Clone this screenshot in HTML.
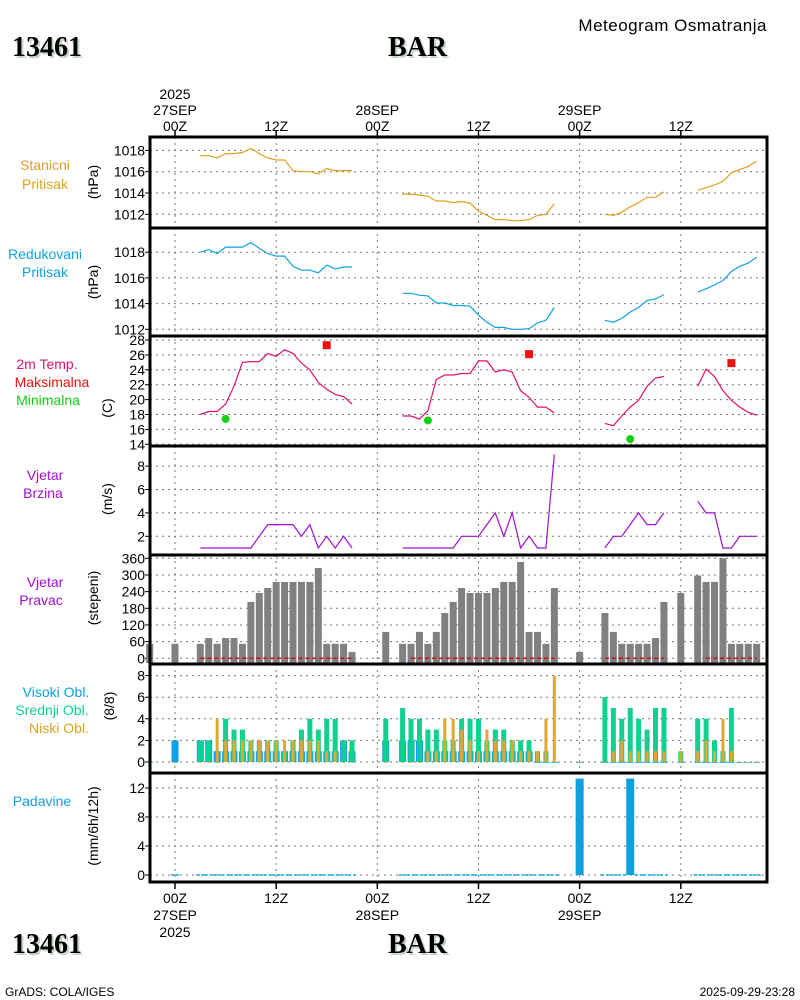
<!DOCTYPE html>
<html><head><meta charset="utf-8"><style>
html,body{margin:0;padding:0;background:#fff;}
svg{display:block;font-family:"Liberation Sans",sans-serif;}
.t{font-size:14px;fill:#000;}
</style></head><body>
<svg id="chart" width="800" height="1000" viewBox="0 0 800 1000" xmlns="http://www.w3.org/2000/svg">
<rect width="800" height="1000" fill="#fff"/>
<text x="767" y="31" text-anchor="end" font-size="17" letter-spacing="0.5">Meteogram Osmatranja</text>
<g font-family="Liberation Serif,serif" font-weight="bold" font-size="28">
<text x="14" y="58" fill="#c4d4c4">13461</text><text x="12" y="56" fill="#000">13461</text>
<text x="390" y="58" fill="#c4d4c4">BAR</text><text x="388" y="56" fill="#000">BAR</text>
</g>
<g font-family="Liberation Serif,serif" font-weight="bold" font-size="28">
<text x="14" y="955" fill="#c4d4c4">13461</text><text x="12" y="953" fill="#000">13461</text>
<text x="390" y="955" fill="#c4d4c4">BAR</text><text x="388" y="953" fill="#000">BAR</text>
</g>
<text x="5" y="996" font-size="12">GrADS: COLA/IGES</text>
<text x="795" y="996" font-size="12" text-anchor="end">2025-09-29-23:28</text>
<g font-size="14" text-anchor="middle">
<text x="45" y="170" fill="#e0a020">Stanicni</text>
<text x="45" y="189" fill="#e0a020">Pritisak</text>
<text x="45" y="259" fill="#10a0e0">Redukovani</text>
<text x="45" y="277" fill="#10a0e0">Pritisak</text>
<text x="47" y="369" fill="#e0106a">2m Temp.</text>
<text x="52" y="387" fill="#f01010">Maksimalna</text>
<text x="48" y="405" fill="#10d010">Minimalna</text>
<text x="45" y="480" fill="#a010d0">Vjetar</text>
<text x="43" y="498" fill="#a010d0">Brzina</text>
<text x="45" y="587" fill="#a010d0">Vjetar</text>
<text x="41" y="605" fill="#a010d0">Pravac</text>
<text x="56" y="697" fill="#10a0e0">Visoki Obl.</text>
<text x="52" y="715" fill="#10d090">Srednji Obl.</text>
<text x="59" y="733" fill="#e0a020">Niski Obl.</text>
<text x="42" y="806" fill="#10a0e0">Padavine</text>
</g>
<g id="plot"></g>
</svg>
<script>
const hours = [];
for (let h = -3; h <= 69; h++) hours.push(h);
const n = null;
const stationPressure = [n,n,n, n,n,n,
 1017.5,1017.5,1017.3,1017.7,1017.7,1017.8,1018.2,1017.7,1017.3,1017.1,1017.1,1016.1,1016.0,1016.0,1015.8,1016.3,1016.1,1016.1,1016.1,
 n,n,n,n,n,
 1013.9,1013.9,1013.8,1013.7,1013.25,1013.25,1013.1,1013.2,1013.05,1012.3,1011.9,1011.5,1011.5,1011.4,1011.4,1011.5,1011.9,1012.0,1013.0,
 n,n,n,n,n,
 1012.0,1011.9,1012.2,1012.7,1013.1,1013.6,1013.6,1014.1,
 n,n,n,
 1014.25,1014.5,1014.75,1015.1,1015.9,1016.2,1016.5,1017.0];
const reducedPressure = [n,n,n, n,n,n,
 1018.0,1018.2,1017.9,1018.4,1018.4,1018.4,1018.75,1018.3,1017.9,1017.7,1017.7,1016.9,1016.6,1016.6,1016.4,1017.0,1016.7,1016.85,1016.85,
 n,n,n,n,n,
 1014.8,1014.8,1014.65,1014.6,1014.05,1014.05,1013.85,1013.85,1013.8,1013.1,1012.55,1012.15,1012.15,1012.0,1012.0,1012.05,1012.5,1012.7,1013.7,
 n,n,n,n,n,
 1012.7,1012.55,1012.85,1013.35,1013.7,1014.25,1014.35,1014.7,
 n,n,n,
 1014.9,1015.15,1015.45,1015.8,1016.5,1016.9,1017.15,1017.6];
const temperature = [n,n,n, n,n,n,
 18.0,18.4,18.4,19.4,21.8,25.0,25.1,25.1,26.2,25.8,26.7,26.2,24.9,24.0,22.3,21.4,20.7,20.4,19.4,
 n,n,n,n,n,
 17.8,17.8,17.4,18.5,22.7,23.3,23.3,23.5,23.5,25.2,25.2,23.7,24.0,23.7,21.2,20.3,19.0,19.0,18.2,
 n,n,n,n,n,
 16.8,16.5,17.8,19.0,19.9,21.8,22.9,23.1,
 n,n,n,
 21.8,24.1,23.1,21.2,19.9,19.0,18.3,17.9];
const tmaxHours = [18, 42, 66];
const tmaxValues = [27.3, 26.1, 24.9];
const tminHours = [6, 30, 54];
const tminValues = [17.4, 17.2, 14.7];
const windSpeed = [n,n,n, n,n,n,
 1,1,1,1,1,1,1,2,3,3,3,3,2,3,1,2,1,2,1,
 n,n,n,n,n,
 1,1,1,1,1,1,1,2,2,2,3,4,2,4,1,2,1,1,9,
 n,n,n,n,n,
 1,2,2,3,4,3,3,4,
 n,n,n,
 5,4,4,1,1,2,2,2];
const windDir = [52,n,n, 52,n,n,
 52,73,52,73,73,52,203,235,253,275,275,275,275,275,325,52,52,52,23,
 n,n,n,95,n,
 52,52,95,52,95,163,203,253,235,235,235,253,275,275,347,95,95,52,253,
 n,n,23,n,n,
 163,95,52,52,52,52,73,203,
 n,235,n,
 298,275,275,360,52,52,52,52];
const highCloud = [0,n,n, 2,n,n,
 2,2,1,1,1,1,1,1,1,1,1,1,1,1,1,1,1,2,1,
 n,n,n,2,n,
 2,2,2,1,1,1,1,1,1,1,1,1,1,1,1,1,0,0,0,
 n,n,0,n,n,
 0,0,0,0,0,0,0,0,
 n,0,n,
 0,0,0,0,0,0,0,0];
const midCloud = [0,n,n, 0,n,n,
 2,2,0,4,3,3,2,2,2,2,1,2,3,4,3,4,4,2,2,
 n,n,n,4,n,
 5,4,4,3,3,2,2,4,4,4,2,3,3,2,2,2,1,1,0,
 n,n,0,n,n,
 6,5,4,5,4,3,5,5,
 n,1,n,
 4,4,2,1,5,0,0,0];
const lowCloud = [0,n,n, 0,n,n,
 0,0,4,2,2,2,2,2,2,2,2,2,2,2,2,1,1,0,0,
 n,n,n,0,n,
 0,0,0,1,1,4,4,3,2,1,3,2,2,2,1,1,1,4,8,
 n,n,0,n,n,
 0,1,2,1,1,1,1,1,
 n,1,n,
 1,2,1,4,1,0,0,0];
const precipHours = [0,3,4,5,6,7,8,9,10,11,12,13,14,15,16,17,18,19,20,21,27,28,29,30,31,32,33,34,35,36,37,38,39,40,41,42,43,44,45,48,51,52,53,54,55,56,57,58,62,63,64,65,66,67,68,69];
const precipValues = [0,0,0,0,0,0,0,0,0,0,0,0,0,0,0,0,0,0,0,0,0,0,0,0,0,0,0,0,0,0,0,0,0,0,0,0,0,0,0,13.3,0,0,0,13.3,0,0,0,0,0,0,0,0,0,0,0,0];
const timeTicks = [0, 12, 24, 36, 48, 60];
const pTicks = [1012, 1014, 1016, 1018];
const tTicks = [14, 16, 18, 20, 22, 24, 26, 28];
const wsTicks = [2, 4, 6, 8];
const wdTicks = [0, 60, 120, 180, 240, 300, 360];
const cTicks = [0, 2, 4, 6, 8];
const prTicks = [0, 4, 8, 12];

const NS = "http://www.w3.org/2000/svg";
const plot = document.getElementById('plot');
function mk(tag, attrs, parent) {
  const e = document.createElementNS(NS, tag);
  for (const k in attrs) e.setAttribute(k, attrs[k]);
  (parent || plot).appendChild(e);
  return e;
}
const X0 = 150, X1 = 767;
const xs = h => 175 + 8.43 * h;
const yP1 = p => 214.3 - (p - 1012) * 10.65;
const yP2 = p => 329.3 - (p - 1012) * 12.85;
const yT = t => 444.3 - (t - 14) * 7.45;
const yWS = v => 548 - (v - 1) * 11.7;
const yWD = v => 658.3 - v * 100 / 360;
const yC = v => 762 - v * 10.8;
const yPr = v => 875 - v * 7.25;
const panels = [[137,228],[228,336],[336,446],[446,555],[555,664],[664,773],[773,882]];

panels.forEach((pn, i) => {
  timeTicks.forEach(h => {
    const g = mk('line', {x1: xs(h), x2: xs(h), y1: pn[0], y2: pn[1], stroke: '#777', 'stroke-dasharray': '2,4'});
    
    
  });
});
function yTicks(ticks, fy, fmt) {
  ticks.forEach(v => {
    const y = fy(v);
    const g = mk('line', {x1: X0, x2: X1, y1: y, y2: y, stroke: '#777', 'stroke-dasharray': '2,4'});
    
    
    const tk = mk('line', {x1: X0 - 5, x2: X0, y1: y, y2: y, stroke: '#000'});
    
    
    const t = mk('text', {x: X0 - 5, y: y + 5, 'text-anchor': 'end', class: 't'});
    t.textContent = fmt ? fmt(v) : v;
    
    
  });
}
yTicks(pTicks, yP1);
yTicks(pTicks, yP2);
yTicks(tTicks, yT);
yTicks(wsTicks, yWS);
yTicks(wdTicks, yWD);
yTicks(cTicks, yC);
yTicks(prTicks, yPr);

function line(arr, fy, color, name) {
  let d = '', pen = false;
  arr.forEach((v, i) => {
    if (v === null) { pen = false; return; }
    d += (pen ? 'L' : 'M') + xs(hours[i]).toFixed(1) + ',' + fy(v).toFixed(1);
    pen = true;
  });
  const p = mk('path', {d: d, fill: 'none', stroke: color, 'stroke-width': 1.2});
  
  
}
line(stationPressure, yP1, '#e0a020', 'station-pressure-line');
line(reducedPressure, yP2, '#10a0e0', 'reduced-pressure-line');
line(temperature, yT, '#e0106a', 'temperature-line');
line(windSpeed, yWS, '#a010d0', 'wind-speed-line');

tmaxHours.forEach((h, i) => {
  const r = mk('rect', {x: xs(h) - 4, y: yT(tmaxValues[i]) - 4, width: 8, height: 8, fill: '#f01010'});
  
  
});
tminHours.forEach((h, i) => {
  const c = mk('circle', {cx: xs(h), cy: yT(tminValues[i]), r: 4, fill: '#10d010'});
  
  
});

windDir.forEach((v, i) => {
  if (v === null) return;
  const x = xs(hours[i]);
  const b = mk('rect', {x: x - 3.5, y: yWD(v), width: 7, height: 663 - yWD(v), fill: '#808080'});
  
  
});
[[3,21],[28,45],[51,58],[63,69]].forEach(s => {
  const l = mk('line', {x1: xs(s[0]), x2: xs(s[1]), y1: yWD(0), y2: yWD(0), stroke: '#d01010', 'stroke-width': 1.5, 'stroke-dasharray': '4,3'});
  
  
});

function cbar(arr, w, color, name) {
  arr.forEach((v, i) => {
    if (v === null) return;
    const x = xs(hours[i]);
    const r = mk('rect', {x: x - w / 2, y: yC(v), width: w, height: Math.max(yC(0) - yC(v), 0.8), fill: color});
    
    
  });
}
cbar(highCloud, 7, '#10a0e8', 'high-cloud-bar');
cbar(midCloud, 5, '#10d090', 'mid-cloud-bar');
cbar(lowCloud, 3, '#e0a830', 'low-cloud-bar');

precipHours.forEach((h, i) => {
  const v = precipValues[i];
  if (v > 0) {
    const r = mk('rect', {x: xs(h) - 4, y: yPr(v), width: 8, height: yPr(0) - yPr(v), fill: '#10a0e0'});
    
    
  } else {
    const r = mk('line', {x1: xs(h) - 4, x2: xs(h) + 4, y1: yPr(0), y2: yPr(0), stroke: '#10a0e0', 'stroke-width': 1.5, 'stroke-dasharray': '3,2'});
    
    
  }
});

panels.forEach(pn => {
  const r = mk('rect', {x: X0, y: pn[0], width: X1 - X0, height: pn[1] - pn[0], fill: 'none', stroke: '#000', 'stroke-width': 3});
  
  
});
timeTicks.forEach(h => {
  const a = mk('line', {x1: xs(h), x2: xs(h), y1: 130, y2: 137, stroke: '#000', 'stroke-width': 1.5});
  
  
  const b = mk('line', {x1: xs(h), x2: xs(h), y1: 882, y2: 889, stroke: '#000', 'stroke-width': 1.5});
  
  
});

const topLabels = [[0,['2025','27SEP','00Z']],[12,['12Z']],[24,['28SEP','00Z']],[36,['12Z']],[48,['29SEP','00Z']],[60,['12Z']]];
topLabels.forEach(tl => {
  const ls = tl[1];
  ls.forEach((s, j) => {
    const t = mk('text', {x: xs(tl[0]), y: 131 - (ls.length - 1 - j) * 16, 'text-anchor': 'middle', class: 't', 'font-size': '15'});
    t.textContent = s;
    
    
  });
});
const botLabels = [[0,['00Z','27SEP','2025']],[12,['12Z']],[24,['00Z','28SEP']],[36,['12Z']],[48,['00Z','29SEP']],[60,['12Z']]];
botLabels.forEach(tl => {
  tl[1].forEach((s, j) => {
    const t = mk('text', {x: xs(tl[0]), y: 903 + j * 17, 'text-anchor': 'middle', class: 't', 'font-size': '15'});
    t.textContent = s;
    
    
  });
});

const units = [['(hPa)',98,182],['(hPa)',98,282],['(C)',112,408],['(m/s)',112,499],['(stepeni)',98,598],['(8/8)',114,706],['(mm/6h/12h)',98,826]];
units.forEach(u => {
  const t = mk('text', {x: u[1], y: u[2], 'text-anchor': 'middle', class: 't', transform: 'rotate(-90 ' + u[1] + ' ' + u[2] + ')'});
  t.textContent = u[0];
  
  
});
</script>
</body></html>
